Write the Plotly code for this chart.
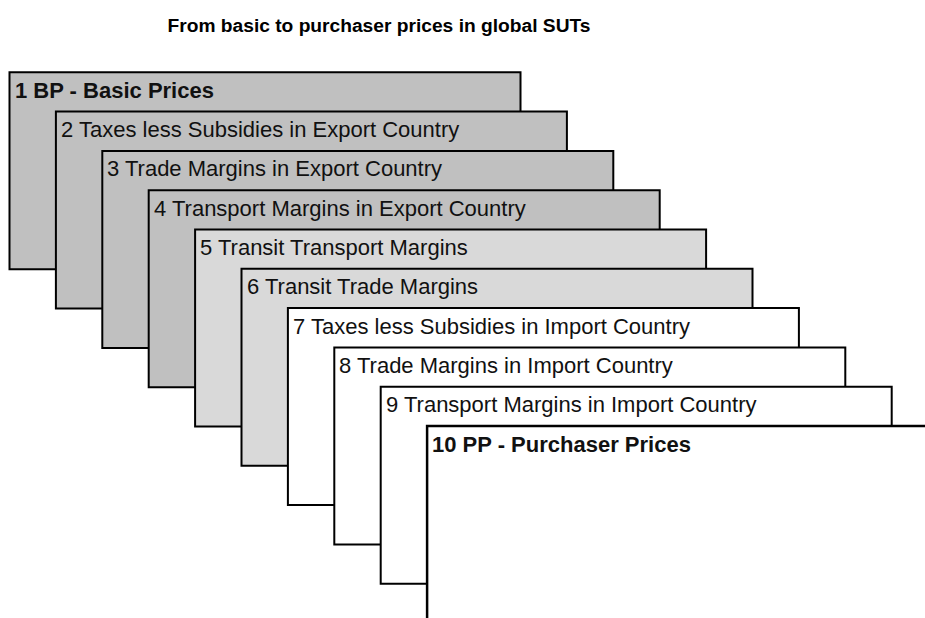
import plotly.graph_objects as go

# ---- data ----
labels = [
    "1 BP - Basic Prices",
    "2 Taxes less Subsidies in Export Country",
    "3 Trade Margins in Export Country",
    "4 Transport Margins in Export Country",
    "5 Transit Transport Margins",
    "6 Transit Trade Margins",
    "7 Taxes less Subsidies in Import Country",
    "8 Trade Margins in Import Country",
    "9 Transport Margins in Import Country",
    "10 PP - Purchaser Prices",
]
stage_group = ["export", "export", "export", "export",
               "transit", "transit",
               "import", "import", "import",
               "final"]
price_level = ["total", "step", "step", "step", "step",
               "step", "step", "step", "step", "total"]
title_text = "From basic to purchaser prices in global SUTs"

# ---- style / layout constants ----
group_fill = {"export": "#c0c0c0", "transit": "#d9d9d9",
              "import": "#ffffff", "final": "#ffffff"}
W, H = 925, 618
X0, Y0 = 9.5, 72.3        # first card top-left (axis units)
DX, DY = 46.4, 39.3       # offset between cards
CARD_W, CARD_H = 511, 197
FONT = "Liberation Sans, Arial, sans-serif"

fig = go.Figure()
shapes = []
annotations = []
n = len(labels)
for i, (lab, grp, lvl) in enumerate(zip(labels, stage_group, price_level)):
    x0 = X0 + i * DX
    y0 = Y0 + i * DY
    last = i == n - 1
    x1 = x0 + CARD_W if not last else W + 20
    y1 = y0 + CARD_H
    shapes.append(dict(
        type="rect", xref="x", yref="y",
        x0=x0, x1=x1, y0=y0, y1=y1,
        fillcolor=group_fill[grp],
        line=dict(color="black", width=2.5 if last else 2),
        layer="above",
    ))
    txt = f"<b>{lab}</b>" if lvl == "total" else lab
    annotations.append(dict(
        x=x0 + 3, y=y0 + 18, xref="x", yref="y",
        xanchor="left", yanchor="middle",
        text=txt, showarrow=False,
        font=dict(family=FONT, size=22, color="#111111"),
    ))

fig.update_layout(
    width=W, height=H,
    margin=dict(l=0, r=0, t=0, b=0),
    paper_bgcolor="white", plot_bgcolor="white",
    xaxis=dict(range=[0, W], visible=False, fixedrange=True),
    yaxis=dict(range=[H, 0], visible=False, fixedrange=True),
    shapes=shapes,
    annotations=annotations,
    showlegend=False,
    title=dict(
        text=f"<b>{title_text}</b>",
        x=379 / W, xanchor="center",
        y=1 - 25 / H, yanchor="middle", yref="container",
        font=dict(family=FONT, size=19.2, color="black"),
    ),
)

fig.write_html(
    "out.html",
    config={"displayModeBar": False},
    post_script="document.body.style.margin='0';document.body.style.padding='0';",
)
